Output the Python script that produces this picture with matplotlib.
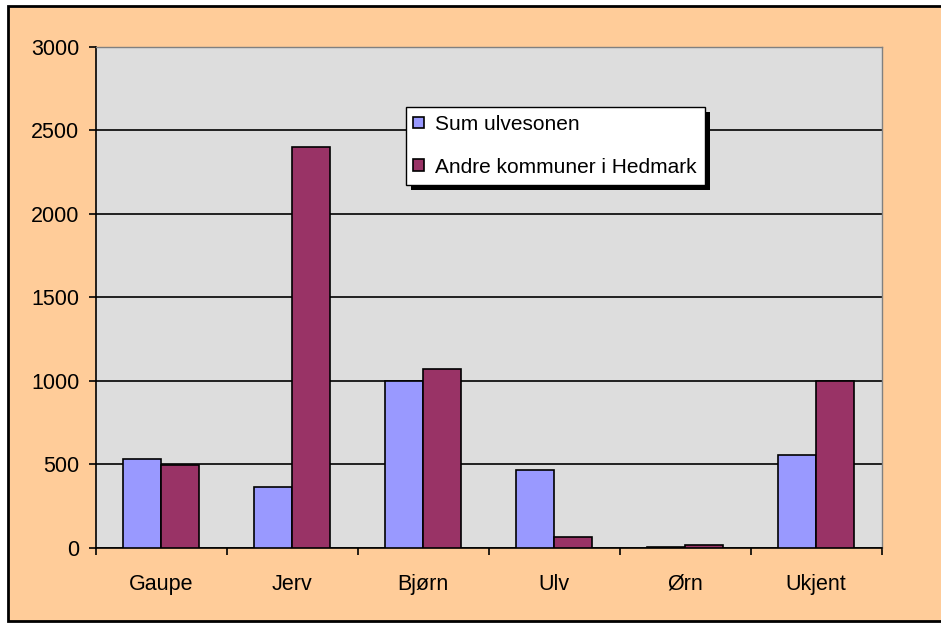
import numpy as np
import matplotlib.pyplot as plt
from matplotlib.patches import Rectangle
from matplotlib.transforms import IdentityTransform

plt.rcParams['font.family'] = ['Liberation Sans', 'DejaVu Sans']

# data
kategorier = ['Gaupe', 'Jerv', 'Bjørn', 'Ulv', 'Ørn', 'Ukjent']
sum_ulvesonen = [533, 365, 1000, 467, 8, 557]
andre_kommuner = [497, 2401, 1072, 66, 20, 1000]
serier = ['Sum ulvesonen', 'Andre kommuner i Hedmark']
y_ticks = [0, 500, 1000, 1500, 2000, 2500, 3000]

fig = plt.figure(figsize=(9.41, 6.24), dpi=100)
fig.patch.set_facecolor('white')
# fond orange avec cadre noir (coupé à droite), derrière les axes
fig.patches.append(Rectangle((0.0085, 0.0048), 1.05, 0.9856, transform=fig.transFigure,
                             facecolor='#FFCC99', edgecolor='black', linewidth=2, zorder=-1))

ax = fig.add_axes([0.102, 0.122, 0.835, 0.803])
ax.set_facecolor('#DDDDDD')

x = np.arange(len(kategorier))
b = 0.29
ax.bar(x - b/2, sum_ulvesonen, b, color='#9999FF', edgecolor='black', linewidth=1.2,
       label=serier[0], zorder=3)
ax.bar(x + b/2, andre_kommuner, b, color='#993366', edgecolor='black', linewidth=1.2,
       label=serier[1], zorder=3)

ax.set_xlim(-0.5, len(kategorier) - 0.5)
ax.set_ylim(0, 3000)
ax.set_yticks(y_ticks)
ax.set_yticklabels([str(v) for v in y_ticks], fontsize=15.5)
ax.yaxis.grid(True, color='black', linewidth=1.2, zorder=1)
ax.set_axisbelow(True)

# ticks x entre les categories, labels au centre (alignés sur la ligne de base)
ax.set_xticks(np.arange(len(kategorier) + 1) - 0.5)
ax.set_xticklabels([])
ax.set_xticks(x, minor=True)
ax.set_xticklabels(kategorier, minor=True, fontsize=15.5)
for t in ax.get_xticklabels(minor=True):
    t.set_verticalalignment('baseline')
ax.tick_params(axis='x', which='minor', length=0, pad=30)
ax.tick_params(axis='x', which='major', length=5, width=1.2, direction='out')
ax.tick_params(axis='y', length=5, width=1.2, direction='out', pad=7)

for s in ['top', 'right']:
    ax.spines[s].set_color('#808080')
    ax.spines[s].set_linewidth(1)
for s in ['left', 'bottom']:
    ax.spines[s].set_color('black')
    ax.spines[s].set_linewidth(1.2)

leg = ax.legend(loc='upper left', bbox_to_anchor=(0.394, 0.880), fontsize=15,
                frameon=True, fancybox=False, framealpha=1, edgecolor='black',
                handlelength=0.5, handleheight=0.5, handletextpad=0.55,
                labelspacing=1.15, borderpad=0.38, borderaxespad=0)
leg.get_frame().set_linewidth(1)

# ombre noire décalée sous la légende
fig.canvas.draw()
bb = leg.get_window_extent()
ombre = Rectangle((bb.x0 + 5, bb.y0 - 5), bb.width, bb.height, transform=IdentityTransform(),
                  facecolor='black', edgecolor='none', zorder=4.9)
ax.add_patch(ombre)

plt.savefig('out.png', dpi=100, facecolor=fig.get_facecolor())
